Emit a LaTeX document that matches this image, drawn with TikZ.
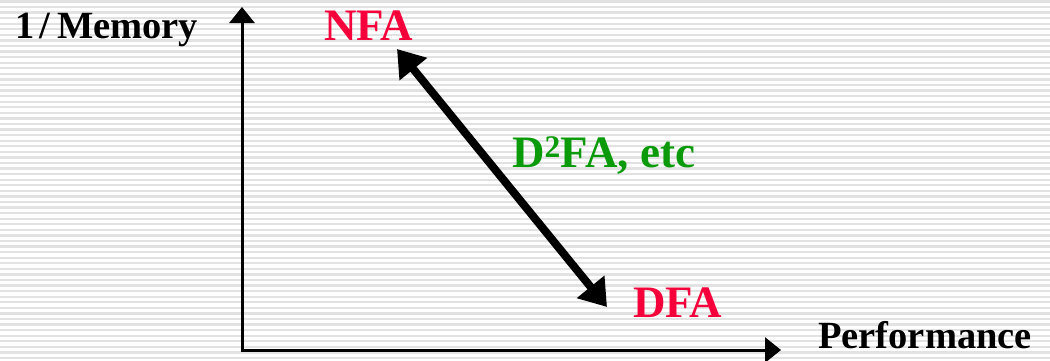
\documentclass[tikz,border=0pt]{standalone}
\usepackage{fontspec}
\setmainfont{Liberation Serif}
\usetikzlibrary{arrows.meta}
\definecolor{lblred}{HTML}{F5003A}
\definecolor{lblgreen}{HTML}{0A9A0A}
\definecolor{stripe}{HTML}{E2E2E2}
\tikzset{
  lbl/.style={inner sep=0pt, anchor=base west, font=\bfseries\fontsize{38.5}{40}\selectfont},
  biglbl/.style={inner sep=0pt, anchor=base west, font=\bfseries\fontsize{45}{48}\selectfont},
  axis/.style={line width=3pt, -{Triangle[length=16pt,width=25pt]}},
  tradeoff/.style={line width=8pt, {Triangle[length=26pt,width=34pt]}-{Triangle[length=26pt,width=34pt]}}
}
\begin{document}
\begin{tikzpicture}[x=1pt,y=-1pt]
\useasboundingbox (0,0) rectangle (1050,360);
\fill[white] (0,0) rectangle (1050,360);
\foreach \i in {0,...,64} {
  \fill[stripe] (0,{0.3+\i*5.57}) rectangle (1050,{2.6+\i*5.57});
}
% axes
\coordinate (o) at (242,350);
\coordinate (ytip) at (242,7);
\coordinate (xtip) at (781,350);
\draw[axis] (o) -- (ytip);
\draw[axis] ([xshift=-1.5pt]o) -- (xtip);
% labels
\node[lbl] (ylab) at (15,38) {1\hspace{5pt}/\hspace{7pt}Memory};
\node[lbl] (xlab) at (818,348) {Performance};
\node[biglbl, text=lblred] (nfa) at (324,40) {NFA};
\node[biglbl, text=lblred] (dfa) at (633,317) {DFA};
\node[biglbl, text=lblgreen] (d2fa) at (512,167) {D\textsuperscript{2}FA, etc};
% trade-off arrow
\coordinate (a) at (397,49);
\coordinate (b) at (607,307);
\draw[tradeoff] (a) -- (b);
\end{tikzpicture}
\end{document}
